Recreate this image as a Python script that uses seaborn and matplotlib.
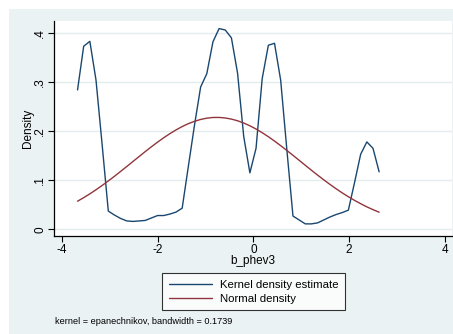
import numpy as np
import pandas as pd
import matplotlib
matplotlib.use("Agg")
import matplotlib.pyplot as plt
from matplotlib.patches import Rectangle
import seaborn as sns

# ---- data ----
grid_start = -3.675
grid_end = 2.63
kde_density = [0.284, 0.373, 0.383, 0.304, 0.172, 0.037, 0.029, 0.022, 0.017, 0.016,
               0.017, 0.018, 0.023, 0.028, 0.028, 0.031, 0.035, 0.043, 0.128, 0.212,
               0.290, 0.317, 0.382, 0.409, 0.406, 0.390, 0.318, 0.189, 0.115, 0.165,
               0.307, 0.375, 0.379, 0.304, 0.163, 0.027, 0.019, 0.011, 0.011, 0.013,
               0.019, 0.025, 0.030, 0.034, 0.039, 0.095, 0.153, 0.178, 0.165, 0.117]
normal_density = [0.0572, 0.0644, 0.0722, 0.0805, 0.0893, 0.0985, 0.1080, 0.1179, 0.1279, 0.1381,
                  0.1482, 0.1583, 0.1681, 0.1775, 0.1865, 0.1948, 0.2025, 0.2093, 0.2152, 0.2200,
                  0.2238, 0.2264, 0.2278, 0.2279, 0.2268, 0.2245, 0.2211, 0.2165, 0.2109, 0.2043,
                  0.1968, 0.1886, 0.1798, 0.1704, 0.1607, 0.1507, 0.1406, 0.1304, 0.1203, 0.1104,
                  0.1008, 0.0915, 0.0826, 0.0742, 0.0663, 0.0589, 0.0521, 0.0457, 0.0400, 0.0348]
x_ticks = [-4, -2, 0, 2, 4]
x_tick_labels = ["-4", "-2", "0", "2", "4"]
y_ticks = [0, 0.1, 0.2, 0.3, 0.4]
y_tick_labels = ["0", ".1", ".2", ".3", ".4"]
series_names = ["Kernel density estimate", "Normal density"]
x_title = "b_phev3"
y_title = "Density"
note_text = "kernel = epanechnikov, bandwidth = 0.1739"

x_grid = np.linspace(grid_start, grid_end, len(kde_density))
df = pd.DataFrame({
    "x": np.concatenate([x_grid, x_grid]),
    "density": kde_density + normal_density,
    "series": [series_names[0]] * len(kde_density) + [series_names[1]] * len(normal_density),
})

sns.set_theme(style="white")
plt.rcParams["font.family"] = ["Liberation Sans", "DejaVu Sans"]

W, H = 453, 334
fig = plt.figure(figsize=(W / 100, H / 100), dpi=100)
fig.patch.set_facecolor("white")
# Stata-like graph region
bg = Rectangle((9 / W, 0), 1 - 9 / W, 1 - 9 / H, transform=fig.transFigure,
               facecolor="#EAF2F3", edgecolor="none", zorder=-10)
fig.patches.append(bg)

ax = fig.add_axes([54 / W, (H - 236) / H, (452 - 54) / W, (236 - 21) / H])
ax.set_zorder(2)
ax.set_facecolor("white")

palette = {series_names[0]: "#1A476F", series_names[1]: "#90353B"}
sns.lineplot(data=df, x="x", y="density", hue="series", palette=palette,
             linewidth=1.0, ax=ax, legend=False, sort=False, estimator=None)

ax.set_xlim(-4.167, 4.153)
ax.set_ylim(-0.0137, 0.4244)
ax.set_xticks(x_ticks)
ax.set_xticklabels(x_tick_labels)
ax.set_yticks(y_ticks)
ax.set_yticklabels(y_tick_labels, rotation=90, va="center")
ax.tick_params(axis="both", direction="out", length=4, width=0.8, color="black",
               labelsize=8.5, labelcolor="black", pad=1.5)
ax.tick_params(axis="x", bottom=True)
ax.tick_params(axis="y", left=True)

ax.grid(axis="y", color="#E3EDEF", linewidth=1.0)
ax.grid(axis="x", visible=False)
for s in ["top", "right"]:
    ax.spines[s].set_visible(False)
for s in ["left", "bottom"]:
    ax.spines[s].set_color("black")
    ax.spines[s].set_linewidth(0.9)

ax.set_xlabel(x_title, fontsize=8.5, color="black")
ax.set_ylabel(y_title, fontsize=8.5, color="black")
ax.xaxis.set_label_coords(0.5, (236 - 255) / 215)
ax.yaxis.set_label_coords((34 - 54) / 398, 0.5)

handles = [plt.Line2D([], [], color=palette[n], lw=1.0) for n in series_names]
leg = fig.legend(handles, series_names, loc="center",
                 bbox_to_anchor=(253.5 / W, 1 - 291.9 / H), fontsize=8.2,
                 frameon=True, fancybox=False, shadow=False, handlelength=3.8,
                 handletextpad=0.68, borderpad=0.55, labelspacing=0.4)
leg.get_frame().set_edgecolor("black")
leg.get_frame().set_linewidth(0.8)
leg.get_frame().set_facecolor("white")
leg.set_zorder(3)
for t in leg.get_texts():
    t.set_color("black")

fig.text(55 / W, 1 - 321 / H, note_text, fontsize=6.6, color="black", va="center", ha="left")

fig.savefig("out.png", dpi=100, facecolor=fig.get_facecolor())
